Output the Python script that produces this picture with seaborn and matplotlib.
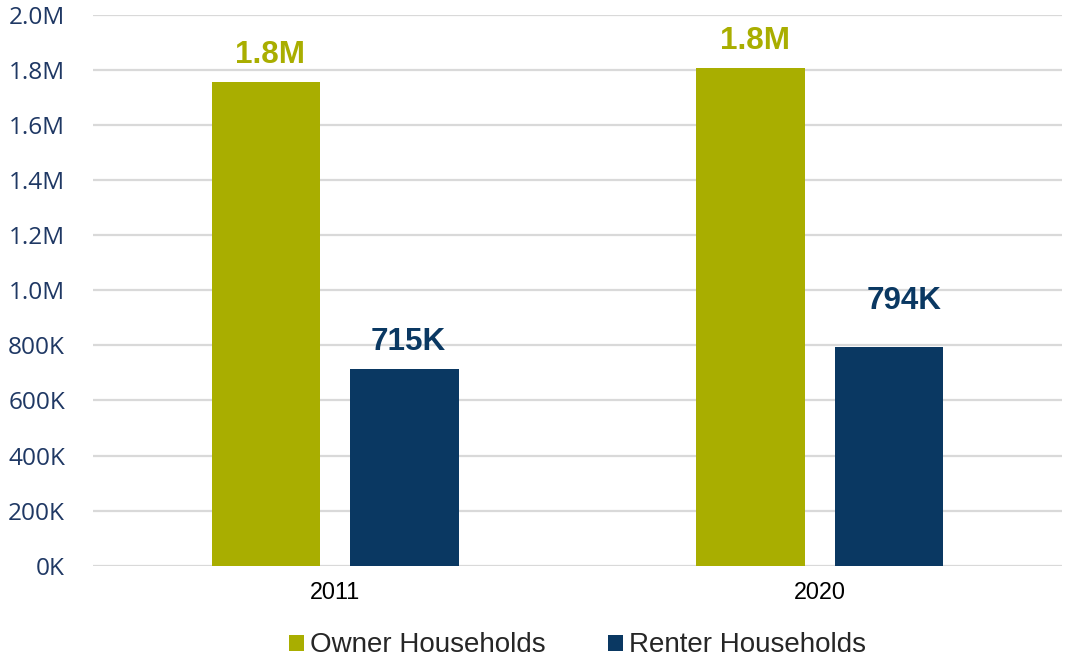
import matplotlib
matplotlib.use("Agg")
import matplotlib.pyplot as plt
import seaborn as sns
import pandas as pd

# ---- data ----
years = ["2011", "2020"]
series_names = ["Owner Households", "Renter Households"]
owner_values = [1758000, 1808000]
renter_values = [715000, 794000]
owner_labels = ["1.8M", "1.8M"]
renter_labels = ["715K", "794K"]
y_ticks = [0, 200000, 400000, 600000, 800000, 1000000, 1200000, 1400000, 1600000, 1800000, 2000000]
y_tick_labels = ["0K", "200K", "400K", "600K", "800K", "1.0M", "1.2M", "1.4M", "1.6M", "1.8M", "2.0M"]

df = pd.DataFrame({
    "year": years * 2,
    "value": owner_values + renter_values,
    "type": [series_names[0]] * len(years) + [series_names[1]] * len(years),
})

colors = ["#A9AE00", "#0A3862"]
tick_color = "#1F3864"

sns.set_theme(style="white")
plt.rcParams["font.family"] = ["Liberation Sans", "DejaVu Sans"]

W, H = 1066, 657
fig = plt.figure(figsize=(W / 100, H / 100), dpi=100)
ax = fig.add_axes([93 / W, 91.3 / H, 969 / W, 550.7 / H])

sns.barplot(data=df, x="year", y="value", hue="type", palette=colors,
            saturation=1, width=0.571, gap=0.217, linewidth=0, ax=ax)

ax.set_xlim(-0.5, 1.5)
ax.set_ylim(0, 2000000)
ax.set_yticks(y_ticks)
ax.set_yticklabels(y_tick_labels, fontfamily="Open Sans", fontsize=17.6, color=tick_color)
ax.tick_params(axis="y", length=0, pad=20)
ax.tick_params(axis="x", length=0, pad=11, labelsize=16.8, labelcolor="#000000")
ax.set_xlabel("")
ax.set_ylabel("")
ax.yaxis.grid(True, color="#D9D9D9", linewidth=1.6)
ax.xaxis.grid(False)
ax.set_axisbelow(True)
for s in ax.spines.values():
    s.set_visible(False)

# data labels
label_sets = [owner_labels, renter_labels]
offsets = [[(2.9, 13.5), (2.9, 13.5)], [(2.9, 13.5), (10.8, 27.4)]]
for ci, cont in enumerate(ax.containers):
    for bi, bar in enumerate(cont):
        x = bar.get_x() + bar.get_width() / 2
        y = bar.get_height()
        ax.annotate(label_sets[ci][bi], (x, y), xytext=offsets[ci][bi],
                    textcoords="offset points", ha="center", va="baseline",
                    fontsize=22.6, fontweight="bold", color=colors[ci],
                    fontfamily="Liberation Sans")

handles, labels = ax.get_legend_handles_labels()
ax.get_legend().remove()
fig.legend(handles, labels, loc="center", bbox_to_anchor=(577.5 / W, 1 - 645.5 / H),
           ncol=2, frameon=False, fontsize=20, handlelength=0.54, handleheight=0.5,
           handletextpad=0.22, columnspacing=2.26, borderpad=0)

fig.savefig("out.png", dpi=100)
